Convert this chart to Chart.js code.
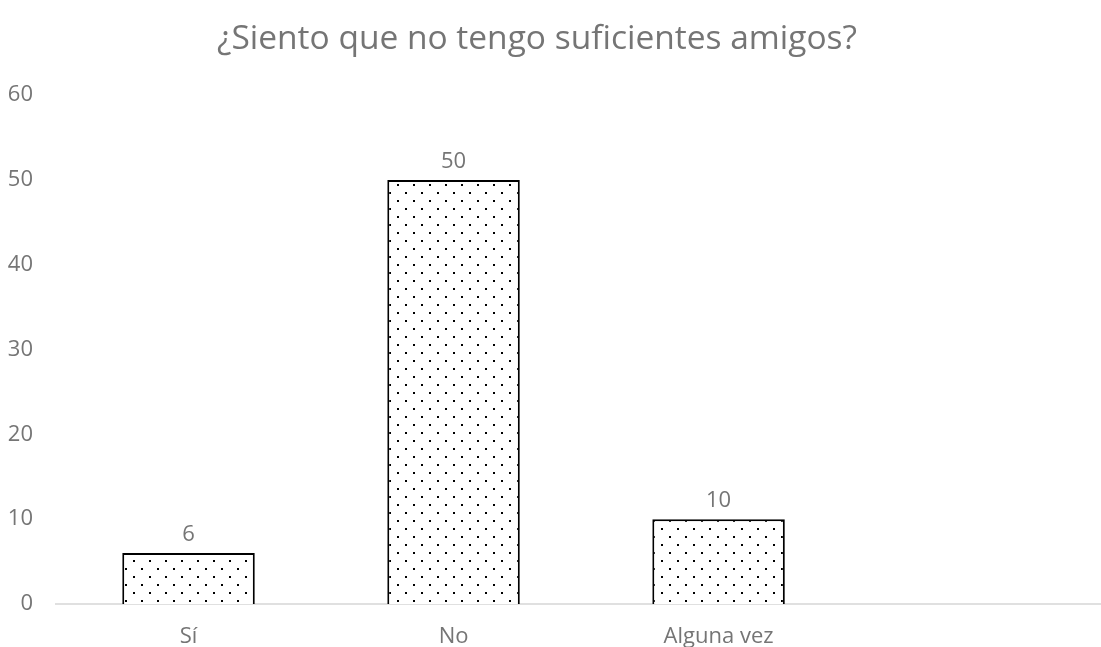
<!DOCTYPE html>
<html>
<head>
<meta charset="utf-8">
<script src="https://cdn.jsdelivr.net/npm/chart.js@4/dist/chart.umd.min.js"></script>
<style>
  html, body { margin: 0; padding: 0; background: #fff; overflow: hidden; }
  #wrap { position: absolute; left: -27px; top: 0; width: 1128px; height: 647px; }
</style>
</head>
<body>
<div id="wrap"><canvas id="chart"></canvas></div>
<script>
const title = '¿Siento que no tengo suficientes amigos?';
const categories = ['Sí', 'No', 'Alguna vez'];
const values = [6, 50, 10];
const yTicks = [0, 10, 20, 30, 40, 50, 60];

const textColor = '#757575';

// dotted fill like the Excel "5%" pattern
function dotPattern() {
  const c = document.createElement('canvas');
  c.width = 16; c.height = 16;
  const g = c.getContext('2d');
  g.fillStyle = '#fff';
  g.fillRect(0, 0, 16, 16);
  g.fillStyle = '#000';
  g.fillRect(0, 0, 2, 2);
  g.fillRect(8, 8, 2, 2);
  return g.createPattern(c, 'repeat');
}

const valueLabels = {
  id: 'valueLabels',
  afterDatasetsDraw(chart) {
    const ctx = chart.ctx;
    const meta = chart.getDatasetMeta(0);
    ctx.save();
    ctx.fillStyle = textColor;
    ctx.font = '22px "Open Sans"';
    ctx.textAlign = 'center';
    ctx.textBaseline = 'middle';
    meta.data.forEach((bar, i) => {
      ctx.fillText(String(values[i]), bar.x, bar.y - 18);
    });
    ctx.restore();
  }
};

const ctx = document.getElementById('chart').getContext('2d');
new Chart(ctx, {
  type: 'bar',
  data: {
    datasets: [{
      data: values.map((v, i) => ({ x: i, y: v })),
      backgroundColor: dotPattern(),
      borderColor: '#000',
      borderWidth: 2,
      categoryPercentage: 1,
      barPercentage: 0.5
    }]
  },
  options: {
    responsive: true,
    maintainAspectRatio: false,
    animation: false,
    layout: { padding: 0 },
    plugins: {
      legend: { display: false },
      tooltip: { enabled: false },
      title: {
        display: true,
        text: title,
        color: textColor,
        font: { family: 'Open Sans', size: 33.5, weight: 'normal', lineHeight: 1.2 },
        padding: { top: 19, bottom: 36 }
      }
    },
    scales: {
      x: {
        type: 'linear',
        offset: false,
        min: -0.5,
        max: 3.443,
        grid: { display: false, drawTicks: false },
        border: { display: true, color: '#e0e0e0', width: 2 },
        afterFit: s => { s.height = 43; },
        afterBuildTicks: s => { s.ticks = categories.map((c, i) => ({ value: i })); },
        ticks: {
          color: textColor,
          font: { family: 'Open Sans', size: 22 },
          padding: 20,
          autoSkip: false,
          maxRotation: 0,
          callback: v => categories[v] ?? ''
        }
      },
      y: {
        min: 0,
        max: 60,
        grid: { display: false, drawTicks: false },
        border: { display: false },
        afterFit: s => { s.width = 83; },
        afterBuildTicks: s => { s.ticks = yTicks.map(v => ({ value: v })); },
        ticks: {
          color: textColor,
          font: { family: 'Open Sans', size: 22 },
          padding: 23
        }
      }
    }
  },
  plugins: [valueLabels]
});
</script>
</body>
</html>
